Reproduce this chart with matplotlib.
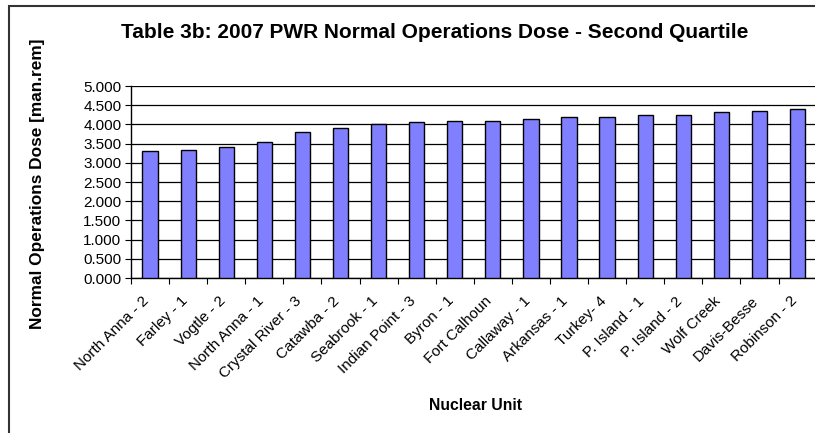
import numpy as np
import matplotlib.pyplot as plt
from matplotlib.patches import Rectangle
from matplotlib.transforms import ScaledTranslation

plt.rcParams['font.family'] = ['Liberation Sans', 'DejaVu Sans']

units = ['North Anna - 2', 'Farley - 1', 'Vogtle - 2', 'North Anna - 1',
         'Crystal River - 3', 'Catawba - 2', 'Seabrook - 1', 'Indian Point - 3',
         'Byron - 1', 'Fort Calhoun', 'Callaway - 1', 'Arkansas - 1',
         'Turkey- 4', 'P. Island - 1', 'P. Island - 2', 'Wolf Creek',
         'Davis-Besse', 'Robinson - 2']
dose = [3.30, 3.34, 3.41, 3.53, 3.79, 3.90, 4.02, 4.05, 4.09, 4.09,
        4.13, 4.20, 4.20, 4.24, 4.24, 4.31, 4.36, 4.39]
yticks = [0, 0.5, 1, 1.5, 2, 2.5, 3, 3.5, 4, 4.5, 5]

fig = plt.figure(figsize=(8.15, 4.33), dpi=100)
ax = fig.add_axes([131/815, 1-278/433, (816.6-131)/815, (278-86)/433])

x = np.arange(len(units))
ax.bar(x, dose, width=0.4, color='#8080FF', edgecolor='black', linewidth=1.0, zorder=3)

ax.set_xlim(-0.5, len(units)-0.5)
ax.set_ylim(0, 5)
ax.set_yticks(yticks)
ax.set_yticklabels(['%.3f' % v for v in yticks], fontsize=11)
ax.yaxis.grid(True, color='black', linewidth=0.9, zorder=0)
ax.set_axisbelow(True)

# category boundaries get the tick marks, names sit at the centres
ax.set_xticks(np.arange(len(units)+1) - 0.5)
ax.set_xticklabels([])
ax.set_xticks(x, minor=True)
ax.set_xticklabels(units, minor=True, rotation=45, ha='right', va='center',
                   rotation_mode='anchor', fontsize=11)
ax.tick_params(axis='x', which='minor', length=0, pad=15)
ax.tick_params(axis='both', which='major', direction='out', length=4, width=0.8,
               color='black', pad=3)
shift = ScaledTranslation(-3/100, 0, fig.dpi_scale_trans)
for lab in ax.get_xticklabels(minor=True):
    lab.set_transform(lab.get_transform() + shift)

for s in ['top', 'right']:
    ax.spines[s].set_visible(False)
for s in ['left', 'bottom']:
    ax.spines[s].set_linewidth(1.0)

fig.text(435/815, 1-33/433, 'Table 3b: 2007 PWR Normal Operations Dose - Second Quartile',
         fontsize=15, fontweight='bold', ha='center', va='center')
fig.text(476/815, 1-406/433, 'Nuclear Unit', fontsize=11.3, fontweight='bold',
         ha='center', va='center')
fig.text(38/815, 1-184/433, 'Normal Operations Dose [man.rem]', fontsize=12.4,
         fontweight='bold', rotation=90, ha='center', va='center')

fig.patches.append(Rectangle((9/815, -0.05), 1.1, 1-6/433+0.05, transform=fig.transFigure,
                             fill=False, edgecolor='#333333', linewidth=1.5))

fig.savefig('out.png', dpi=100)
